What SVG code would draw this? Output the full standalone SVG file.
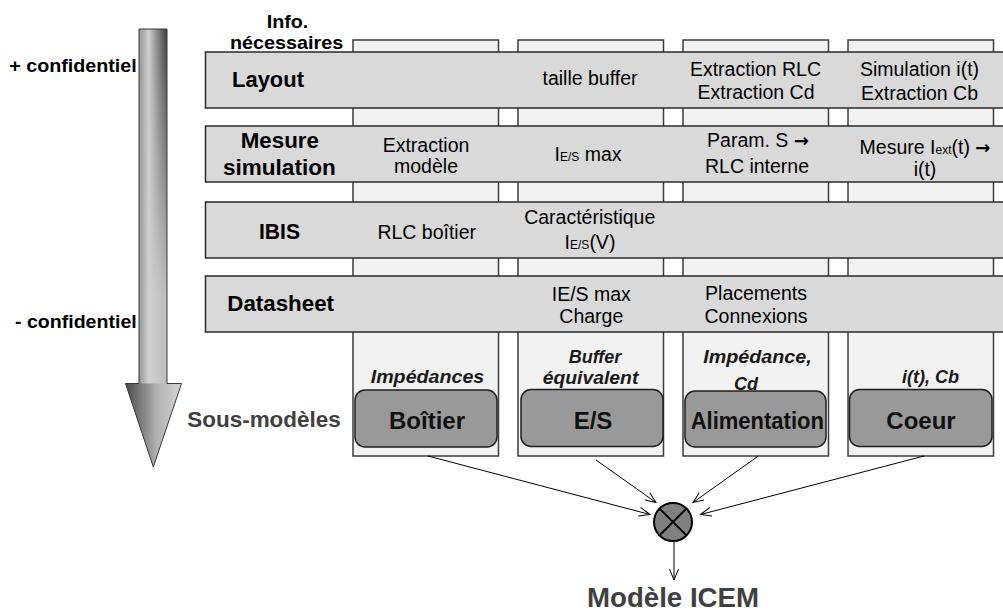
<svg xmlns="http://www.w3.org/2000/svg" width="1003" height="612" viewBox="0 0 1003 612">
  <style>
    .col { fill: #f2f2f2; stroke: #3c3c3c; stroke-width: 1.5; }
    .row { fill: #d9d9d9; stroke: #2a2a2a; stroke-width: 1.5; }
    .box { fill: #999999; stroke: #1e1e1e; stroke-width: 1.5; }
    .lbl { font-family: "Liberation Sans", Arial, sans-serif; font-weight: bold; font-size: 22px; fill: #000; }
    .side { font-family: "Liberation Sans", Arial, sans-serif; font-weight: bold; font-size: 19px; fill: #000; }
    .txt { font-family: "Liberation Sans", Arial, sans-serif; font-size: 19.5px; fill: #000; text-anchor: middle; }
    .sub { font-size: 12px; }
    .arw { font-family: "DejaVu Sans", sans-serif; font-weight: bold; font-size: 18px; }
    .ital { font-family: "Liberation Sans", Arial, sans-serif; font-weight: bold; font-style: italic; font-size: 18px; fill: #1a1a1a; text-anchor: middle; }
    .boxlbl { font-family: "Liberation Sans", Arial, sans-serif; font-weight: bold; font-size: 24px; fill: #111; text-anchor: middle; }
    .grey { font-family: "Liberation Sans", Arial, sans-serif; font-weight: bold; fill: #404040; }
    .link { stroke: #000; stroke-width: 1; fill: none; marker-end: url(#head); }
  </style>
  <defs>
    <marker id="head" viewBox="0 0 12 10" refX="11" refY="5" markerWidth="12" markerHeight="10" markerUnits="userSpaceOnUse" orient="auto">
      <path d="M0,0.5 L11,5 L0,9.5" fill="none" stroke="#000" stroke-width="1"/>
    </marker>
    <linearGradient id="shaftFill" x1="0" y1="0" x2="1" y2="0">
      <stop offset="0" stop-color="#959595"/>
      <stop offset="0.35" stop-color="#d0d0d0"/>
      <stop offset="1" stop-color="#bdbdbd"/>
    </linearGradient>
    <linearGradient id="shaftShade" x1="0" y1="0" x2="1" y2="0">
      <stop offset="0.35" stop-color="#2a2a2a" stop-opacity="0"/>
      <stop offset="1" stop-color="#2a2a2a" stop-opacity="0.85"/>
    </linearGradient>
    <linearGradient id="fadeDown" x1="0" y1="0" x2="0" y2="1">
      <stop offset="0" stop-color="#fff"/>
      <stop offset="0.75" stop-color="#000"/>
    </linearGradient>
    <mask id="shadeMask" maskContentUnits="userSpaceOnUse">
      <rect x="139" y="29" width="28" height="355" fill="url(#fadeDown)"/>
    </mask>
    <linearGradient id="headFill" x1="0" y1="0" x2="1" y2="0">
      <stop offset="0" stop-color="#4a4a4a"/>
      <stop offset="0.55" stop-color="#afafaf"/>
      <stop offset="1" stop-color="#d6d6d6"/>
    </linearGradient>
  </defs>

  <!-- confidentiality scale arrow -->
  <g id="scale-arrow">
    <rect x="139" y="29" width="28" height="355" fill="url(#shaftFill)"/>
    <rect x="139" y="29" width="28" height="355" fill="url(#shaftShade)" mask="url(#shadeMask)"/>
    <polygon points="125.5,383.5 181.5,383.5 153.3,467" fill="url(#headFill)"/>
    <path d="M139,29 H167 V383.5 H181.5 L153.3,467 L125.5,383.5 H139 Z" fill="none" stroke="#3a3a3a" stroke-width="1"/>
    <text class="side" x="9.3" y="71.7" textLength="127.4" lengthAdjust="spacingAndGlyphs">+ confidentiel</text>
    <text class="side" x="15" y="327.7" textLength="121.7" lengthAdjust="spacingAndGlyphs">- confidentiel</text>
  </g>

  <!-- header -->
  <g id="header">
    <text class="side" x="266.7" y="28.3" textLength="41.6" lengthAdjust="spacingAndGlyphs">Info.</text>
    <text class="side" x="230" y="49.3" textLength="113.3" lengthAdjust="spacingAndGlyphs">nécessaires</text>
  </g>

  <!-- sub-model columns -->
  <g id="columns">
    <rect id="col-boitier" class="col" x="353" y="40" width="145.5" height="416"/>
    <rect id="col-es" class="col" x="518" y="40" width="145.5" height="416"/>
    <rect id="col-alim" class="col" x="683" y="40" width="145.5" height="416"/>
    <rect id="col-coeur" class="col" x="848" y="40" width="145.5" height="416"/>
  </g>

  <!-- information sources -->
  <g id="row-layout">
    <rect class="row" x="205.5" y="52" width="805" height="56"/>
    <text class="lbl" x="232" y="87.3" textLength="72" lengthAdjust="spacingAndGlyphs">Layout</text>
    <text class="txt" x="590" y="85">taille buffer</text>
    <text class="txt" x="755.5" y="75.5">Extraction RLC</text>
    <text class="txt" x="756" y="98.5">Extraction Cd</text>
    <text class="txt" x="919.5" y="76">Simulation i(t)</text>
    <text class="txt" x="919.5" y="99.5">Extraction Cb</text>
  </g>

  <g id="row-mesure">
    <rect class="row" x="205.5" y="126" width="805" height="56"/>
    <text class="lbl" x="240.7" y="148.3" textLength="78.3" lengthAdjust="spacingAndGlyphs">Mesure</text>
    <text class="lbl" x="223" y="175" textLength="112.7" lengthAdjust="spacingAndGlyphs">simulation</text>
    <text class="txt" x="426" y="151.7">Extraction</text>
    <text class="txt" x="426" y="172.7">modèle</text>
    <text class="txt" x="588" y="160.7">I<tspan class="sub">E/S</tspan> max</text>
    <text class="txt" x="758" y="147.3">Param. S <tspan class="arw">→</tspan></text>
    <text class="txt" x="757" y="173">RLC interne</text>
    <text class="txt" x="925" y="153.5">Mesure I<tspan class="sub">ext</tspan>(t) <tspan class="arw">→</tspan></text>
    <text class="txt" x="925" y="176">i(t)</text>
  </g>

  <g id="row-ibis">
    <rect class="row" x="205.5" y="202" width="805" height="56"/>
    <text class="lbl" x="259" y="239" textLength="41" lengthAdjust="spacingAndGlyphs">IBIS</text>
    <text class="txt" x="426.7" y="239">RLC boîtier</text>
    <text class="txt" x="589.7" y="224.3">Caractéristique</text>
    <text class="txt" x="590" y="248.5">I<tspan class="sub">E/S</tspan>(V)</text>
  </g>

  <g id="row-datasheet">
    <rect class="row" x="205.5" y="276" width="805" height="56"/>
    <text class="lbl" x="227.3" y="310.7" textLength="106.7" lengthAdjust="spacingAndGlyphs">Datasheet</text>
    <text class="txt" x="591.3" y="301">IE/S max</text>
    <text class="txt" x="591.3" y="322.5">Charge</text>
    <text class="txt" x="756" y="300">Placements</text>
    <text class="txt" x="756" y="323">Connexions</text>
  </g>

  <!-- sub-models -->
  <text class="grey" x="187.3" y="426.7" font-size="22.5" textLength="153.4" lengthAdjust="spacingAndGlyphs">Sous-modèles</text>

  <g id="sm-boitier">
    <text class="ital" x="427.5" y="383.3" textLength="113.6" lengthAdjust="spacingAndGlyphs">Impédances</text>
    <rect class="box" x="355" y="390" width="142" height="57" rx="10"/>
    <text class="boxlbl" x="427" y="429.3">Boîtier</text>
  </g>
  <g id="sm-es">
    <text class="ital" x="595" y="363.3">Buffer</text>
    <text class="ital" x="590.5" y="384.3" textLength="95.7" lengthAdjust="spacingAndGlyphs">équivalent</text>
    <rect class="box" x="521" y="389.5" width="142" height="57" rx="10"/>
    <text class="boxlbl" x="593" y="429.3">E/S</text>
  </g>
  <g id="sm-alim">
    <text class="ital" x="757.5" y="362.7" textLength="108.4" lengthAdjust="spacingAndGlyphs">Impédance,</text>
    <text class="ital" x="746" y="390">Cd</text>
    <rect class="box" x="685" y="391" width="141" height="56" rx="10"/>
    <text class="boxlbl" x="757.3" y="429.3" textLength="133.3" lengthAdjust="spacingAndGlyphs">Alimentation</text>
  </g>
  <g id="sm-coeur">
    <text class="ital" x="930.5" y="382.7">i(t), Cb</text>
    <rect class="box" x="849.5" y="389.5" width="142.5" height="57" rx="10"/>
    <text class="boxlbl" x="921" y="429.3">Coeur</text>
  </g>

  <!-- connectors -->
  <g id="connectors">
    <line class="link" x1="428" y1="456" x2="650" y2="514.5"/>
    <line class="link" x1="596" y1="460" x2="656" y2="502.5"/>
    <line class="link" x1="758.3" y1="456" x2="693" y2="502.5"/>
    <line class="link" x1="924" y1="456" x2="700.5" y2="514.5"/>
    <line class="link" x1="674" y1="542" x2="674" y2="580"/>
  </g>

  <!-- combining operator -->
  <g id="combine">
    <circle cx="673" cy="522" r="19" fill="#808080" stroke="#000" stroke-width="2"/>
    <path d="M659.6,508.6 L686.4,535.4 M686.4,508.6 L659.6,535.4" stroke="#000" stroke-width="2"/>
  </g>

  <g id="result">
    <text class="grey" x="673" y="607" font-size="27" text-anchor="middle" textLength="172" lengthAdjust="spacingAndGlyphs">Modèle ICEM</text>
  </g>
</svg>
